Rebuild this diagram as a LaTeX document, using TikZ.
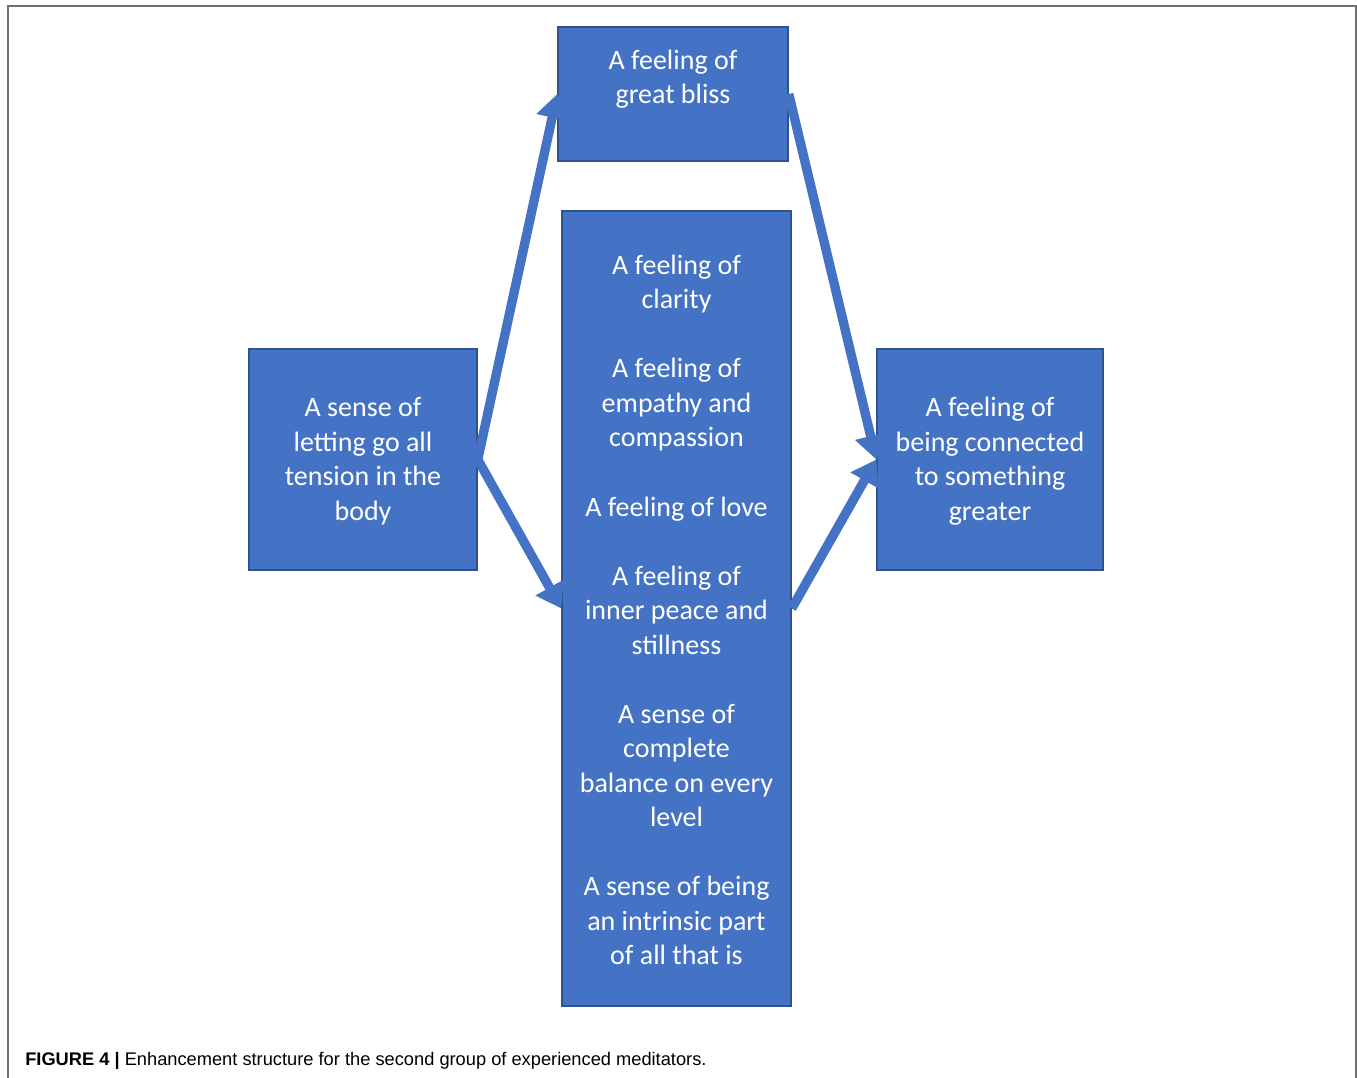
\documentclass[tikz,border=0pt]{standalone}
\usepackage{fontspec}
\setmainfont{Carlito}
\newfontfamily\capfont{Liberation Sans}
\usetikzlibrary{arrows.meta,calc}
\definecolor{boxblue}{HTML}{4472C4}
\definecolor{boxedge}{HTML}{2F528F}
\definecolor{framegray}{HTML}{707070}
\begin{document}
\begin{tikzpicture}[x=0.75pt,y=-0.75pt,
  box/.style={draw=boxedge,fill=boxblue,line width=1.1pt,rectangle,inner sep=0pt},
  boxtext/.style={text=white,align=center,font=\fontsize{21}{25.9}\selectfont,inner sep=0pt},
  blockarrow/.style={draw=boxblue,line width=7pt,-{Triangle[width=23pt,length=18pt]}}]
\useasboundingbox (0,0) rectangle (1357,1078);
\draw[framegray,line width=1.1pt] (8,1078) -- (8,6) -- (1356,6) -- (1356,1078);
% boxes
\node[box,minimum width=172.5pt,minimum height=100.5pt] (T) at (673,94) {};
\node[boxtext] (Ttext) at (673,79) {A feeling of\\great bliss};
\node[box,minimum width=171.75pt,minimum height=596.25pt] (M) at (676.5,608.5) {};
\node[boxtext] (Mtext) at (676.5,610)
  {A feeling of\\clarity\\[25.9pt]A feeling of\\empathy and\\compassion\\[25.9pt]A feeling of love\\[25.9pt]A feeling of\\inner peace and\\stillness\\[25.9pt]A sense of\\complete\\balance on every\\level\\[25.9pt]A sense of being\\an intrinsic part\\of all that is};
\node[box,minimum width=171pt,minimum height=165.75pt] (L) at (363,459.5) {};
\node[boxtext] (Ltext) at (363,461)
  {A sense of\\letting go all\\tension in the\\body};
\node[box,minimum width=169.5pt,minimum height=165.75pt] (R) at (990,459.5) {};
\node[boxtext] (Rtext) at (990,461)
  {A feeling of\\being connected\\to something\\greater};
% arrows
\draw[blockarrow] (L.east) -- (T.west);
\draw[blockarrow] (L.east) -- (M.west);
\draw[blockarrow] (T.east) -- (R.west);
\draw[blockarrow] (M.east) -- (R.west);
% caption
\node[anchor=base west,inner sep=0pt,font=\capfont\fontsize{13.7}{16}\selectfont] (cap) at (25,1065)
  {\textbf{FIGURE 4 |} Enhancement structure for the second group of experienced meditators.};
\end{tikzpicture}
\end{document}
